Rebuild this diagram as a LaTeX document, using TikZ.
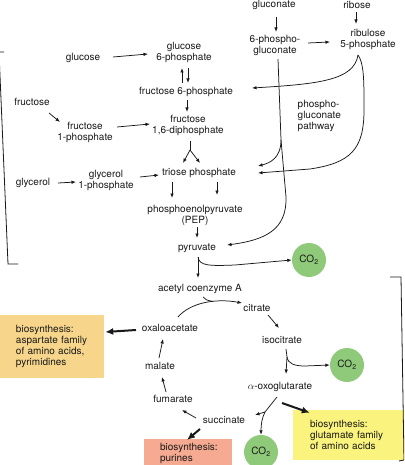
\documentclass[tikz,border=0pt]{standalone}
\usepackage{fontspec}
\setmainfont{TeX Gyre Heros}
\usetikzlibrary{arrows.meta,calc}
\definecolor{co2green}{RGB}{143,201,122}
\definecolor{boxorange}{RGB}{247,214,140}
\definecolor{boxyellow}{RGB}{250,243,125}
\definecolor{boxsalmon}{RGB}{245,170,145}
\definecolor{ink}{RGB}{25,25,25}
\begin{document}
\begin{tikzpicture}[x=1pt,y=-1pt,
  lbl/.style={font=\fontsize{10}{11}\selectfont, align=center, inner sep=0.5pt, text=ink},
  arr/.style={-{Latex[length=4.5pt,width=3.5pt]}, line width=0.75pt, draw=ink},
  plainline/.style={line width=0.75pt, draw=ink},
  bigarr/.style={-{Latex[length=8pt,width=7pt]}, line width=2pt, draw=ink},
  co2/.style={circle, fill=co2green, minimum size=34pt, inner sep=0pt, font=\fontsize{10}{11}\selectfont, text=ink},
  biobox/.style={font=\fontsize{10}{11}\selectfont, align=left, text=ink, inner ysep=4pt},
  bracket/.style={line width=0.8pt, draw=ink}
]
\useasboundingbox (0,0) rectangle (404,465);
\clip (0,0) rectangle (404,465);

% ---- nodes ----
\node[lbl] (gluconate) at (274,5) {gluconate};
\node[lbl] (ribose) at (357,4.5) {ribose};
\node[lbl] (glucose) at (83,58) {glucose};
\node[lbl] (g6p) at (184,52) {glucose\\6-phosphate};
\node[lbl] (pg6) at (275,45) {6-phospho-\\gluconate};
\node[lbl] (ru5p) at (368,39) {ribulose\\5-phosphate};
\node[lbl] (f6p) at (186,92) {fructose 6-phosphate};
\node[lbl] (fructose) at (32,102) {fructose};
\node[lbl] (f1p) at (85,132) {fructose\\1-phosphate};
\node[lbl] (f16p) at (188,125) {fructose\\1,6-diphosphate};
\node[lbl, align=left, anchor=west] (pathway) at (297,116) {phospho-\\gluconate\\pathway};
\node[lbl] (glycerol) at (33,183) {glycerol};
\node[lbl] (gly1p) at (106,180) {glycerol\\1-phosphate};
\node[lbl] (triose) at (199,173) {triose phosphate};
\node[lbl] (pep) at (195,215) {phosphoenolpyruvate\\(PEP)};
\node[lbl] (pyr) at (197,248) {pyruvate};
\node[co2] (co2a) at (309,260) {CO\textsubscript{2}};
\node[lbl] (acoa) at (200,289) {acetyl coenzyme A};
\node[lbl] (citrate) at (257,308) {citrate};
\node[lbl] (isocitrate) at (282,340) {isocitrate};
\node[co2] (co2b) at (347,365) {CO\textsubscript{2}};
\node[lbl] (aog) at (280,387) {$\alpha$-oxoglutarate};
\node[lbl] (oaa) at (170,328) {oxaloacetate};
\node[lbl] (malate) at (160,366) {malate};
\node[lbl] (fumarate) at (173,399) {fumarate};
\node[lbl] (succinate) at (224,420) {succinate};
\node[co2] (co2c) at (261,452) {CO\textsubscript{2}};

\node[biobox, fill=boxorange, text width=72pt, inner xsep=16pt, minimum height=63pt] (boxA) at (52,346)
  {biosynthesis:\\aspartate family\\of amino acids,\\pyrimidines};
\node[biobox, fill=boxyellow, text width=80pt, inner xsep=17pt, minimum height=50pt] (boxG) at (350,435)
  {biosynthesis:\\glutamate family\\of amino acids};
\node[biobox, fill=boxsalmon, text width=56pt, inner xsep=16pt, inner ysep=4.5pt, anchor=north,
      font=\fontsize{10}{10.5}\selectfont] (boxP) at (188,439)
  {biosynthesis:\\purines};

% ---- brackets ----
\draw[bracket] (4,52) -- (-1,52) -- (8,264) -- (18,264);
\draw[bracket] (390,277) -- (401,277) -- (404,460) -- (399,461);

% ---- upper pathway connectors ----
\draw[arr] ($(glucose)+(30,-1)$) -- ($(g6p)+(-36,2)$);
\draw[arr] ($(f6p)+(-4,-9)$) -- ($(g6p)+(-2,16)$);
\draw[arr] ($(g6p)+(4,16)$) -- ($(f6p)+(2,-9)$);
\draw[arr] ($(f6p)+(1,8)$) -- ($(f16p)+(-1,-13)$);
\draw[arr] ($(fructose)+(17,11)$) -- ($(f1p)+(-25,-10)$);
\draw[arr] ($(f1p)+(32,-5)$) -- ($(f16p)+(-38,-1)$);
\draw[plainline] ($(f16p)+(2,16)$) -- ($(f16p)+(2,25)$) coordinate (fy);
\draw[arr] (fy) -- ($(triose)+(-16,-10)$);
\draw[arr] (fy) -- ($(triose)+(1,-10)$);
\draw[arr] ($(glycerol)+(25,0)$) -- ($(gly1p)+(-30,2)$);
\draw[arr] ($(gly1p)+(34,-3)$) -- ($(triose)+(-40,2)$);
\draw[arr] ($(triose)+(-27,9)$) -- ($(pep)+(-23,-17)$);
\draw[arr] ($(triose)+(18,9)$) -- ($(pep)+(22,-20)$);
\draw[arr] ($(pep)+(2,12)$) -- ($(pyr)+(0,-10)$);

\draw[arr] ($(gluconate)+(2,12)$) -- ($(pg6)+(1,-13)$);
\draw[arr] ($(ribose)+(-1,8)$) -- ($(ru5p)+(-12,-15)$);
\draw[arr] ($(pg6)+(33,-2)$) -- ($(ru5p)+(-38,3)$);

% ribulose 5-phosphate to fructose 6-phosphate and triose phosphate
\coordinate (rs) at ($(ru5p)+(-10,16)$);
\draw[arr] (rs) .. controls (354,80) and (320,84) .. ($(f6p)+(66,-4)$);
\draw[arr] (rs) .. controls (363,62) and (364,75) .. (364,100) -- (364,110)
  .. controls (364,150) and (350,163) .. (310,169) -- ($(triose)+(59,0)$);

% 6-phosphogluconate to triose phosphate and pyruvate
\coordinate (ps) at ($(pg6)+(3,14)$);
\coordinate (pb) at (281,140);
\draw[plainline] (ps) -- (pb);
\draw[arr] (pb) .. controls (281,158) and (270,163) .. ($(triose)+(59,-7)$);
\draw[arr] (pb) -- (286,197) .. controls (287,230) and (265,240) .. ($(pyr)+(30,-3)$);

% pyruvate to acetyl CoA and CO2
\coordinate (py) at ($(pyr)+(1,9)$);
\draw[arr] (py) -- ($(acoa)+(-2,-11)$);
\draw[arr] (py) .. controls (199,266) and (210,266) .. (235,265) -- (co2a.west);

% ---- TCA cycle ----
\coordinate (oa) at ($(oaa)+(8,-11)$);
\draw[arr] (oa) .. controls (190,303) and (215,298) .. ($(citrate)+(-15,-5)$);
\draw[plainline] ($(acoa)+(3,8)$) .. controls (206,300) .. (213,301.5);
\draw[arr] ($(citrate)+(11,7)$) -- ($(isocitrate)+(-3,-12)$);
\coordinate (ib) at ($(isocitrate)+(5,17)$);
\draw[plainline] ($(isocitrate)+(4,9)$) -- (ib);
\draw[arr] (ib) -- ($(aog)+(6,-13)$);
\draw[arr] (ib) .. controls (288,364) and (295,366) .. (305,366) -- (co2b.west);
\coordinate (ab) at (265,412);
\draw[plainline] ($(aog)+(-3,10)$) -- (ab);
\draw[arr] (ab) -- ($(succinate)+(31,-5)$);
\draw[arr] (ab) .. controls (262,418) and (261,424) .. (co2c.north);
\draw[bigarr] ($(aog)+(2,16)$) -- ($(boxG.north west)+(17,3)$);
\draw[arr] ($(succinate)+(-28,-2)$) -- ($(fumarate)+(9,11)$);
\draw[bigarr] ($(succinate)+(-24,9)$) -- ($(boxP.north)+(-1,1)$);
\draw[arr] ($(fumarate)+(-7,-7)$) -- ($(malate)+(2,11)$);
\draw[arr] ($(malate)+(-1,-8)$) -- ($(oaa)+(-7,11)$);
\draw[bigarr] ($(oaa)+(-34,2)$) -- ($(boxA.east)+(1,-14)$);
\end{tikzpicture}
\end{document}
